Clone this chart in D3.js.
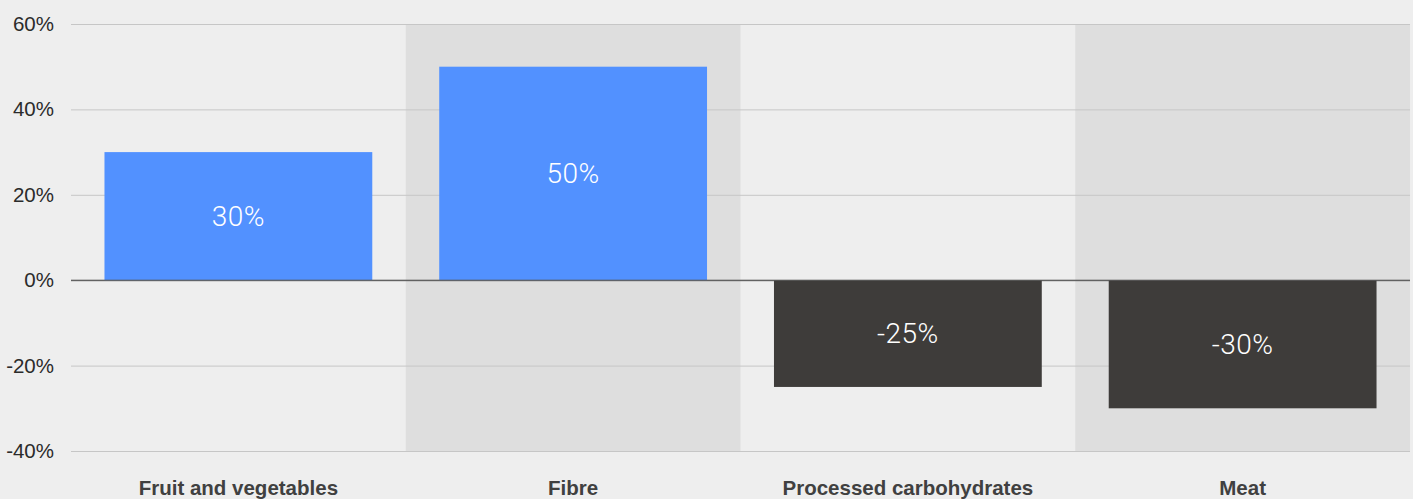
<!DOCTYPE html>
<html>
<head>
<meta charset="utf-8">
<script src="https://cdn.jsdelivr.net/npm/d3@7"></script>
<style>
  html, body { margin: 0; padding: 0; background: #eeeeee; }
  svg { display: block; }
</style>
</head>
<body>
<svg id="chart" width="1413" height="499"></svg>
<script>
// Change in recommended intake by food group
const categories = ["Fruit and vegetables", "Fibre", "Processed carbohydrates", "Meat"];
const values = [30, 50, -25, -30];
const yTicks = [60, 40, 20, 0, -20, -40];

const width = 1413, height = 499;
const margin = { top: 24, right: 3, bottom: 48, left: 71 };

const svg = d3.select("#chart");

const x = d3.scaleBand()
  .domain(categories)
  .range([margin.left, width - margin.right])
  .paddingInner(0.2)
  .paddingOuter(0.1);

const xBg = d3.scaleBand()
  .domain(categories)
  .range([margin.left, width - margin.right])
  .padding(0);

const y = d3.scaleLinear()
  .domain([-40, 60])
  .range([height - margin.bottom, margin.top]);

// alternating column shading
svg.append("g")
  .selectAll("rect")
  .data(categories.filter((d, i) => i % 2 === 1))
  .join("rect")
  .attr("x", d => xBg(d))
  .attr("y", y(60))
  .attr("width", xBg.bandwidth())
  .attr("height", y(-40) - y(60))
  .attr("fill", "#dedede");

// horizontal grid + tick labels
const yAxis = svg.append("g")
  .attr("transform", `translate(${margin.left},0)`)
  .call(d3.axisLeft(y)
    .tickValues(yTicks)
    .tickSize(-(width - margin.right - margin.left))
    .tickPadding(17)
    .tickFormat(d => d + "%"));
yAxis.select(".domain").remove();
yAxis.selectAll(".tick line")
  .attr("stroke", d => d === 0 ? "#5a5a5a" : "#c6c6c6")
  .attr("stroke-width", 1);
yAxis.selectAll(".tick text")
  .attr("fill", "#2b2b2b")
  .style("font-family", "'Liberation Sans', Arial, sans-serif")
  .style("font-size", "20.5px");

// bars
svg.append("g")
  .selectAll("rect")
  .data(values)
  .join("rect")
  .attr("x", (d, i) => x(categories[i]))
  .attr("y", d => y(Math.max(0, d)))
  .attr("width", x.bandwidth())
  .attr("height", d => Math.abs(y(d) - y(0)))
  .attr("fill", d => d >= 0 ? "#5291ff" : "#3e3c3a");

// zero line drawn over bars
svg.append("line")
  .attr("x1", margin.left)
  .attr("x2", width - margin.right)
  .attr("y1", y(0))
  .attr("y2", y(0))
  .attr("stroke", "#5a5a5a");

// value labels centred inside bars
svg.append("g")
  .selectAll("text")
  .data(values)
  .join("text")
  .attr("x", (d, i) => x(categories[i]) + x.bandwidth() / 2)
  .attr("y", d => (y(d) + y(0)) / 2)
  .attr("text-anchor", "middle")
  .attr("dominant-baseline", "central")
  .attr("fill", "#ffffff")
  .style("font-family", "Roboto, 'Liberation Sans', sans-serif")
  .style("font-weight", 300)
  .style("font-size", "28px")
  .style("letter-spacing", "0.5px")
  .text(d => d + "%");

// category labels
svg.append("g")
  .selectAll("text")
  .data(categories)
  .join("text")
  .attr("x", d => xBg(d) + xBg.bandwidth() / 2)
  .attr("y", 487)
  .attr("text-anchor", "middle")
  .attr("dominant-baseline", "central")
  .attr("fill", "#404040")
  .style("font-family", "'Liberation Sans', Arial, sans-serif")
  .style("font-weight", "bold")
  .style("font-size", "20.5px")
  .text(d => d);
</script>
</body>
</html>
